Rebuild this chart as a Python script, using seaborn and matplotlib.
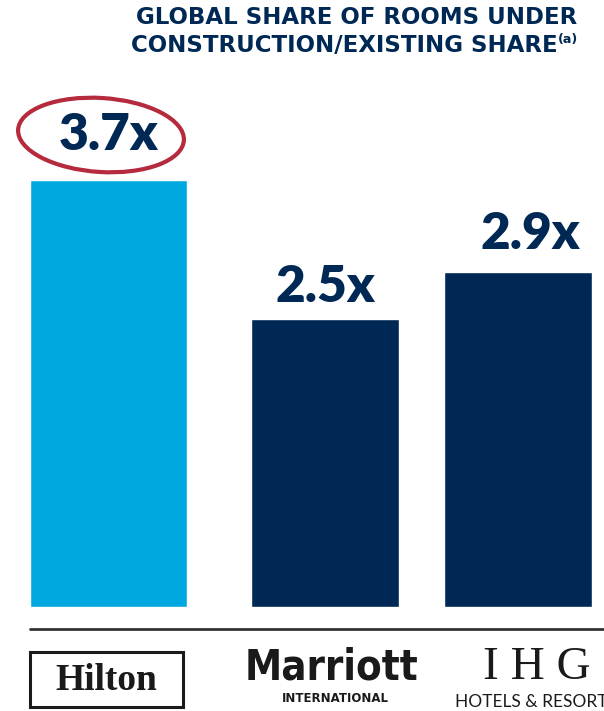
import matplotlib
matplotlib.use("Agg")
import matplotlib.pyplot as plt
import seaborn as sns
import pandas as pd
from matplotlib.patches import Ellipse, Rectangle
from matplotlib.lines import Line2D

brands = ["Hilton", "Marriott", "IHG"]
values = [3.7, 2.5, 2.9]
labels = ["3.7x", "2.5x", "2.9x"]
bar_colors = ["#00A8E1", "#002855", "#002855"]

title_line1 = "GLOBAL SHARE OF ROOMS UNDER"
title_line2 = "CONSTRUCTION/EXISTING SHARE"
title_note = "(a)"

NAVY = "#002855"
W, H = 604, 711
sns.set_theme(style="white")
plt.rcParams['font.family'] = ['Lato', 'DejaVu Sans']

fig = plt.figure(figsize=(W / 100, H / 100), dpi=100)
base_px = 607
ax = fig.add_axes([0, (H - base_px) / H, 1, base_px / H])

df = pd.DataFrame({"brand": brands, "value": values})
sns.barplot(data=df, x="brand", y="value", hue="brand", palette=bar_colors,
            legend=False, ax=ax, width=0.745, saturation=1)
px_per_unit = 115.4
ax.set_ylim(0, base_px / px_per_unit)
ax.set_xlim(-0.554, 2.407)
ax.set_axis_off()

# adjust bar geometry to match reference
geom = [(30, 187), (251, 399), (444, 592)]
def px2x(p):
    return -0.554 + p / W * (2.407 + 0.554)
for patch, (l, r) in zip(ax.patches, geom):
    patch.set_x(px2x(l))
    patch.set_width(px2x(r) - px2x(l))

label_dx = [0, 0, 12]
label_gap = [22, 9, 15]
for i, (v, lab) in enumerate(zip(values, labels)):
    cx = (geom[i][0] + geom[i][1]) / 2 + label_dx[i]
    ax.annotate(lab, xy=(px2x(cx), v), xytext=(0, label_gap[i] * 0.72),
                textcoords="offset points", ha="center", va="bottom",
                fontsize=37, fontweight="heavy", color=NAVY)

# red hand-drawn ellipse around the Hilton label
ell = Ellipse((101 / W, 1 - 135 / H), 166 / W, 74 / H, angle=-3,
              transform=fig.transFigure, fill=False, edgecolor="#B52A3C", lw=3)
fig.add_artist(ell)

# title
tfont = dict(family="DejaVu Sans", fontweight="bold", color=NAVY, fontsize=16.5)
fig.text(357 / W, 1 - 18 / H, title_line1, ha="center", va="center", **tfont)
t2 = fig.text(344 / W, 1 - 46 / H, title_line2, ha="center", va="center", **tfont)
fig.canvas.draw()
bb = t2.get_window_extent()
fig.text((bb.x1 + 1) / W, 1 - 40 / H, title_note, ha="left", va="center",
         fontsize=9, family="DejaVu Sans", fontweight="bold", color=NAVY)

# baseline
fig.add_artist(Line2D([30 / W, 1], [1 - 629 / H, 1 - 629 / H],
                      transform=fig.transFigure, color="#333333", lw=2))

# logos as text
fig.add_artist(Rectangle((30 / W, 1 - 707 / H), 153 / W, 55 / H,
                         transform=fig.transFigure, fill=False,
                         edgecolor="#1a1a1a", lw=2.2))
fig.text(106 / W, 1 - 681 / H, "Hilton", ha="center", va="center",
         fontsize=27, family="Liberation Serif", fontweight="bold", color="#1a1a1a")
fig.text(331 / W, 1 - 668 / H, "Marriott", ha="center", va="center",
         fontsize=30, family="DejaVu Sans", fontstretch="condensed",
         fontweight="bold", color="#1a1a1a")
fig.text(335 / W, 1 - 698 / H, "INTERNATIONAL", ha="center", va="center",
         fontsize=8.5, family="DejaVu Sans", fontweight="bold", color="#1a1a1a")
fig.text(537 / W, 1 - 668 / H, "I H G", ha="center", va="center",
         fontsize=34, family="Liberation Serif", color="#1a1a1a")
fig.text(455 / W, 1 - 702 / H, "HOTELS & RESORTS", ha="left", va="center",
         fontsize=12.5, family="Lato", color="#1a1a1a")

fig.savefig("out.png", dpi=100)
